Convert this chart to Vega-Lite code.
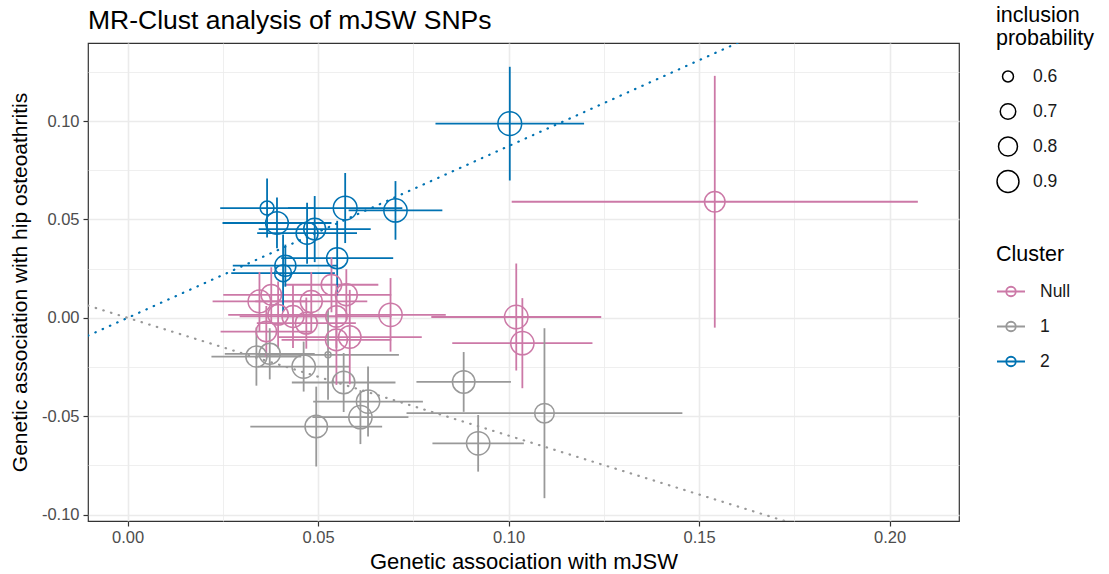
{
  "$schema": "https://vega.github.io/schema/vega-lite/v6.json",
  "width": 871,
  "height": 478,
  "autosize": {"type": "none"},
  "padding": {"left": 88, "top": 43, "right": 150, "bottom": 53},
  "title": {"text": "MR-Clust analysis of mJSW SNPs", "anchor": "start", "frame": "group", "fontSize": 26.5, "fontWeight": "normal", "color": "#000000", "offset": 12, "dy": 41},
  "config": {
    "font": "Liberation Sans",
    "view": {"stroke": "#333333", "strokeWidth": 1.2},
    "axis": {
      "domain": false,
      "tickColor": "#333333",
      "tickSize": 5,
      "tickWidth": 1.2,
      "labelColor": "#4D4D4D",
      "labelFontSize": 16.5,
      "labelPadding": 3,
      "titleColor": "#000000",
      "titleFontSize": 22,
      "titleFontWeight": "normal",
      "gridColor": "#EBEBEB",
      "gridWidth": {"condition": {"test": "round(datum.value*1000) % 50 == 0", "value": 1.6}, "value": 0.8},
      "tickOpacity": {"condition": {"test": "round(datum.value*1000) % 50 == 0", "value": 1}, "value": 0},
      "labelExpr": "round(datum.value*1000) % 50 == 0 ? (datum.value < -0.0001 ? '-' : '') + format(abs(datum.value), '.2f') : ''"
    },
    "legend": {"labelFontSize": 17.5, "labelColor": "#1A1A1A", "titleFontSize": 21.5, "titleFontWeight": "normal", "titleColor": "#000000"}
  },
  "datasets": {
    "pts": [
      {"cluster": "2", "x": 0.0366, "y": 0.0558, "xlo": 0.0243, "xhi": 0.0489, "ylo": 0.0408, "yhi": 0.0708, "p": 0.66},
      {"cluster": "2", "x": 0.0703, "y": 0.0546, "xlo": 0.058, "xhi": 0.0826, "ylo": 0.0397, "yhi": 0.0695, "p": 0.95},
      {"cluster": "2", "x": 0.0571, "y": 0.0558, "xlo": 0.0421, "xhi": 0.0721, "ylo": 0.038, "yhi": 0.0736, "p": 0.97},
      {"cluster": "2", "x": 0.0392, "y": 0.0482, "xlo": 0.0249, "xhi": 0.0535, "ylo": 0.0353, "yhi": 0.0611, "p": 0.93},
      {"cluster": "2", "x": 0.0471, "y": 0.043, "xlo": 0.034, "xhi": 0.0602, "ylo": 0.0275, "yhi": 0.0585, "p": 0.9},
      {"cluster": "2", "x": 0.0491, "y": 0.0451, "xlo": 0.0344, "xhi": 0.0638, "ylo": 0.0283, "yhi": 0.0619, "p": 0.9},
      {"cluster": "2", "x": 0.055, "y": 0.0303, "xlo": 0.0403, "xhi": 0.0697, "ylo": 0.0113, "yhi": 0.0493, "p": 0.87},
      {"cluster": "2", "x": 0.0414, "y": 0.0265, "xlo": 0.0276, "xhi": 0.0552, "ylo": 0.0158, "yhi": 0.0372, "p": 0.87},
      {"cluster": "2", "x": 0.0408, "y": 0.0227, "xlo": 0.0272, "xhi": 0.0544, "ylo": 0.0031, "yhi": 0.0423, "p": 0.74},
      {"cluster": "2", "x": 0.1003, "y": 0.0987, "xlo": 0.0808, "xhi": 0.1198, "ylo": 0.0698, "yhi": 0.1276, "p": 0.97},
      {"cluster": "1", "x": 0.0338, "y": -0.0197, "xlo": 0.022, "xhi": 0.0456, "ylo": -0.0345, "yhi": -0.0049, "p": 0.87},
      {"cluster": "1", "x": 0.0373, "y": -0.0183, "xlo": 0.0255, "xhi": 0.0491, "ylo": -0.0313, "yhi": -0.0053, "p": 0.87},
      {"cluster": "1", "x": 0.0462, "y": -0.0248, "xlo": 0.0342, "xhi": 0.0582, "ylo": -0.0375, "yhi": -0.0121, "p": 0.95},
      {"cluster": "1", "x": 0.0526, "y": -0.0188, "xlo": 0.034, "xhi": 0.0712, "ylo": -0.0417, "yhi": 0.0041, "p": 0.53},
      {"cluster": "1", "x": 0.0567, "y": -0.0329, "xlo": 0.0431, "xhi": 0.0703, "ylo": -0.0479, "yhi": -0.0179, "p": 0.92},
      {"cluster": "1", "x": 0.0631, "y": -0.0426, "xlo": 0.0487, "xhi": 0.0775, "ylo": -0.0604, "yhi": -0.0248, "p": 0.95},
      {"cluster": "1", "x": 0.0611, "y": -0.0505, "xlo": 0.0485, "xhi": 0.0737, "ylo": -0.0642, "yhi": -0.0368, "p": 0.95},
      {"cluster": "1", "x": 0.0495, "y": -0.0553, "xlo": 0.0322, "xhi": 0.0668, "ylo": -0.0756, "yhi": -0.035, "p": 0.92},
      {"cluster": "1", "x": 0.0882, "y": -0.0326, "xlo": 0.0758, "xhi": 0.1006, "ylo": -0.0478, "yhi": -0.0174, "p": 0.92},
      {"cluster": "1", "x": 0.1094, "y": -0.0485, "xlo": 0.0732, "xhi": 0.1456, "ylo": -0.0917, "yhi": -0.0053, "p": 0.82},
      {"cluster": "1", "x": 0.092, "y": -0.0638, "xlo": 0.08, "xhi": 0.104, "ylo": -0.0782, "yhi": -0.0494, "p": 0.95},
      {"cluster": "Null", "x": 0.0346, "y": 0.0083, "xlo": 0.0223, "xhi": 0.0469, "ylo": -0.0067, "yhi": 0.0233, "p": 0.93},
      {"cluster": "Null", "x": 0.0377, "y": 0.0117, "xlo": 0.0251, "xhi": 0.0503, "ylo": -0.0023, "yhi": 0.0257, "p": 0.85},
      {"cluster": "Null", "x": 0.0482, "y": 0.0083, "xlo": 0.0335, "xhi": 0.0629, "ylo": -0.0067, "yhi": 0.0233, "p": 0.9},
      {"cluster": "Null", "x": 0.0535, "y": 0.0168, "xlo": 0.0412, "xhi": 0.0658, "ylo": 0.0028, "yhi": 0.0308, "p": 0.85},
      {"cluster": "Null", "x": 0.0574, "y": 0.0117, "xlo": 0.0456, "xhi": 0.0692, "ylo": -0.0013, "yhi": 0.0247, "p": 0.9},
      {"cluster": "Null", "x": 0.069, "y": 0.0015, "xlo": 0.0545, "xhi": 0.0835, "ylo": -0.0172, "yhi": 0.0202, "p": 0.95},
      {"cluster": "Null", "x": 0.0395, "y": 0.0015, "xlo": 0.0264, "xhi": 0.0526, "ylo": -0.0155, "yhi": 0.0185, "p": 0.85},
      {"cluster": "Null", "x": 0.0434, "y": 0.0007, "xlo": 0.0294, "xhi": 0.0574, "ylo": -0.0153, "yhi": 0.0167, "p": 0.9},
      {"cluster": "Null", "x": 0.0469, "y": -0.0027, "xlo": 0.0339, "xhi": 0.0599, "ylo": -0.0157, "yhi": 0.0103, "p": 0.9},
      {"cluster": "Null", "x": 0.0548, "y": 0.0007, "xlo": 0.0403, "xhi": 0.0693, "ylo": -0.0153, "yhi": 0.0167, "p": 0.88},
      {"cluster": "Null", "x": 0.0548, "y": -0.0112, "xlo": 0.0404, "xhi": 0.0692, "ylo": -0.0341, "yhi": 0.0117, "p": 0.9},
      {"cluster": "Null", "x": 0.0583, "y": -0.0098, "xlo": 0.0394, "xhi": 0.0772, "ylo": -0.0338, "yhi": 0.0142, "p": 0.92},
      {"cluster": "Null", "x": 0.0364, "y": -0.007, "xlo": 0.0244, "xhi": 0.0484, "ylo": -0.02, "yhi": 0.006, "p": 0.85},
      {"cluster": "Null", "x": 0.1541, "y": 0.059, "xlo": 0.1008, "xhi": 0.2074, "ylo": -0.005, "yhi": 0.123, "p": 0.85},
      {"cluster": "Null", "x": 0.102, "y": 0.0004, "xlo": 0.0797, "xhi": 0.1243, "ylo": -0.0268, "yhi": 0.0276, "p": 0.96},
      {"cluster": "Null", "x": 0.1036, "y": -0.0129, "xlo": 0.0852, "xhi": 0.122, "ylo": -0.0358, "yhi": 0.01, "p": 0.95}
    ],
    "lines": [
      {"cluster": "2", "x": -0.0104, "y": -0.0091},
      {"cluster": "2", "x": 0.2182, "y": 0.1905},
      {"cluster": "1", "x": -0.0104, "y": 0.0062},
      {"cluster": "1", "x": 0.2182, "y": -0.1307}
    ]
  },
  "layer": [
    {
      "data": {"name": "lines"},
      "mark": {"type": "line", "clip": true, "strokeDash": [0.5, 7.5], "strokeCap": "round", "strokeWidth": 2.2},
      "encoding": {
        "x": {"field": "x", "type": "quantitative", "scale": {"domain": [-0.0104, 0.2182], "nice": false, "zero": false},
              "axis": {"values": [0, 0.025, 0.05, 0.075, 0.1, 0.125, 0.15, 0.175, 0.2], "title": "Genetic association with mJSW", "titlePadding": 6}},
        "y": {"field": "y", "type": "quantitative", "scale": {"domain": [-0.1033, 0.1397], "nice": false, "zero": false},
              "axis": {"values": [-0.1, -0.075, -0.05, -0.025, 0, 0.025, 0.05, 0.075, 0.1, 0.125], "title": "Genetic association with hip osteoathritis", "titlePadding": 11, "labelPadding": 4, "titleFontSize": 21}},
        "color": {"field": "cluster", "type": "nominal", "scale": {"domain": ["Null", "1", "2"], "range": ["#CC79A7", "#999999", "#0072B2"]}},
        "detail": {"field": "cluster"}
      }
    },
    {
      "data": {"name": "pts"},
      "mark": {"type": "rule", "strokeWidth": 1.8},
      "encoding": {
        "x": {"field": "xlo", "type": "quantitative"},
        "x2": {"field": "xhi"},
        "y": {"field": "y", "type": "quantitative"},
        "color": {"field": "cluster", "type": "nominal"}
      }
    },
    {
      "data": {"name": "pts"},
      "mark": {"type": "rule", "strokeWidth": 1.8},
      "encoding": {
        "x": {"field": "x", "type": "quantitative"},
        "y": {"field": "ylo", "type": "quantitative"},
        "y2": {"field": "yhi"},
        "color": {"field": "cluster", "type": "nominal"}
      }
    },
    {
      "data": {"name": "pts"},
      "mark": {"type": "point", "filled": false, "strokeWidth": 1.5, "opacity": 1},
      "encoding": {
        "x": {"field": "x", "type": "quantitative"},
        "y": {"field": "y", "type": "quantitative"},
        "size": {"field": "p", "type": "quantitative", "scale": {"domain": [0.5, 1], "range": [0, 600]},
                 "legend": {"title": ["inclusion", "probability"], "values": [0.6, 0.7, 0.8, 0.9], "orient": "none", "legendX": 908, "legendY": -38,
                            "symbolStrokeColor": "#000000", "symbolFillColor": "transparent", "symbolStrokeWidth": 1.5, "clipHeight": 28, "rowPadding": 7, "titleLineHeight": 23, "titlePadding": 13, "labelOffset": 13}},
        "color": {"field": "cluster", "type": "nominal",
                  "legend": {"title": "Cluster", "orient": "none", "legendX": 908, "legendY": 201,
                             "symbolType": "M-1,0H1M0.34,0A0.34,0.34,0,1,1,-0.34,0A0.34,0.34,0,1,1,0.34,0",
                             "symbolSize": 784, "symbolStrokeWidth": 1.8, "symbolFillColor": "transparent", "clipHeight": 28, "rowPadding": 7, "titlePadding": 12, "labelOffset": 14}}
      }
    }
  ]
}
